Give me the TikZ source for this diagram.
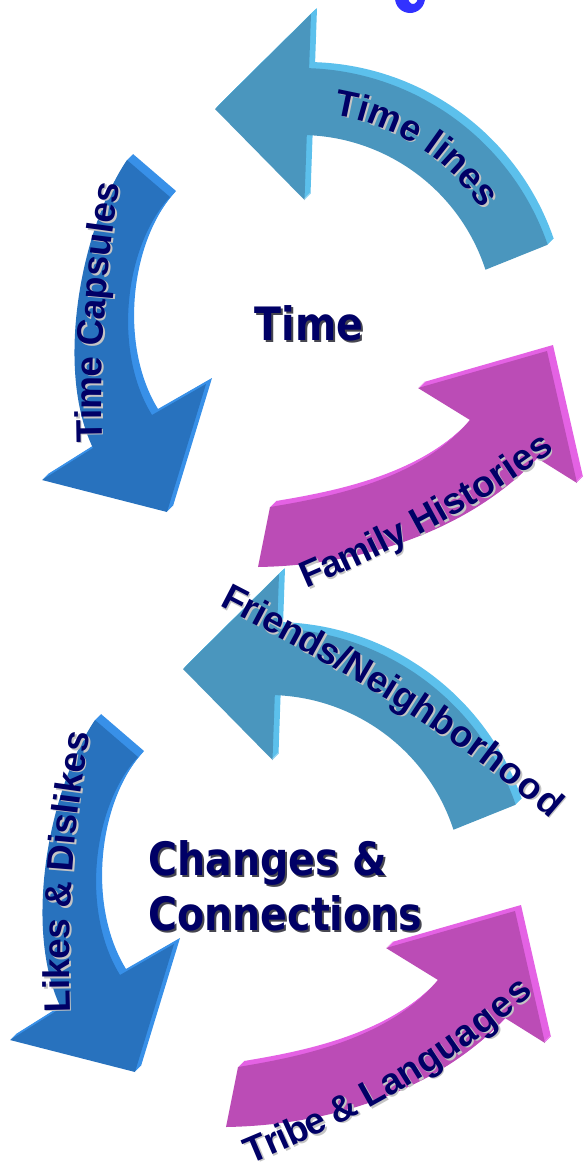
\documentclass[tikz,border=0pt]{standalone}
\usepackage{fontspec}
\setmainfont{Liberation Sans}
\newfontfamily\titlefont{DejaVu Sans}

\definecolor{lineblue}{RGB}{74,150,190}
\definecolor{lineblueside}{RGB}{92,192,236}
\definecolor{capblue}{RGB}{40,114,190}
\definecolor{capblueside}{RGB}{56,144,232}
\definecolor{famviolet}{RGB}{187,76,182}
\definecolor{famvioletside}{RGB}{228,98,228}
\definecolor{labelnavy}{RGB}{0,0,102}
\definecolor{labelshade}{RGB}{196,196,196}
\definecolor{titleshade}{RGB}{70,70,80}
\definecolor{glyphblue}{RGB}{50,50,255}

% arrow faces, pixel units (y grows downwards)
\newcommand\linesarrow[1]{\fill[#1] (547.7,244.7) arc[start angle=-19,end angle=-88,radius=262]
  -- (311,14) -- (215,109) -- (304.5,200) -- (306.8,135.1)
  arc[start angle=-88,end angle=-18,radius=195] -- cycle;}
\newcommand\capsarrow[1]{\fill[#1] (127,160) .. controls (80,230) and (55,370) .. (93,448)
  -- (42,480) -- (167,512) -- (206,384) -- (152,415)
  .. controls (112,350) and (125,245) .. (170,197) -- cycle;}
\newcommand\famarrow[1]{\fill[#1] (258,567) .. controls (380,565) and (480,520) .. (537,458)
  -- (577,483) -- (547,351) -- (418,388) -- (470,420)
  .. controls (420,480) and (330,497) .. (270,507) -- cycle;}

% one ring of three arrows, with its extruded side
\newcommand\arrowring{%
  \foreach \ex in {1,...,6} {\linesarrow{lineblueside,shift={(\ex,-\ex)}}}
  \linesarrow{lineblue}
  \foreach \ex in {1,...,6} {\capsarrow{capblueside,shift={(\ex,-\ex)}}}
  \capsarrow{capblue}
  \foreach \ex in {1,...,6} {\famarrow{famvioletside,shift={(\ex,-\ex)}}}
  \famarrow{famviolet}}

% letters set one by one along a path (#1 path, #2 its length, #3 text width, #4 letter/width)
\newdimen\labelrun
\newcommand\pathlabel[4]{%
  \global\labelrun=0pt
  \foreach \chr/\chw in {#4} {
    \pgfmathsetmacro\chpos{0.5+(\labelrun+\chw/2-#3/2)*0.037/#2}
    \path[shift={(1.6,1.6)}] #1 node[labelshadow,pos=\chpos] {\chr};
    \path #1 node[labelchar,pos=\chpos] {\chr};
    \global\advance\labelrun by \chw pt
  }}
\newcommand\titleword[1]{\scalebox{0.86}[1]{#1}}

\begin{document}
\begin{tikzpicture}[x=1pt,y=-1pt,line join=round,
  labelchar/.style={text=labelnavy,inner sep=0pt,sloped,allow upside down,anchor=base,
    font=\bfseries\fontsize{37}{37}\selectfont},
  labelshadow/.style={labelchar,text=labelshade},
  titletext/.style={text=labelnavy,inner sep=0pt,font=\titlefont\bfseries\fontsize{46}{46}\selectfont},
  titleback/.style={titletext,text=titleshade}]
\fill[white] (0,0) rectangle (585,1165);
\clip (0,0) rectangle (585,1165);

% piece of a letter cut by the top edge
\fill[glyphblue,even odd rule] (410,-2) ellipse[x radius=15,y radius=15]
  (413,-3) ellipse[x radius=5,y radius=7];

\arrowring
\begin{scope}[shift={(-32,560)}]
  \arrowring
\end{scope}

% labels of the upper ring
\pathlabel{(251,117.6) arc[start angle=-103,end angle=-12,radius=218]}{346.2}{4871}
  {T/611,i/278,m/889,e/556,{}/278,l/278,i/278,n/611,e/556,s/556}
\pathlabel{(103,470) .. controls (99,365) and (104,262) .. (126,155)}{318}{7058}
  {T/611,i/278,m/889,e/556,{}/278,C/722,a/556,p/611,s/556,u/611,l/278,e/556,s/556}
\pathlabel{(296,593) .. controls (386,555) and (478,509) .. (566,442)}{311}{7725}
  {F/611,a/556,m/889,i/278,l/278,y/556,{}/278,H/722,i/278,s/556,t/333,o/611,r/389,i/278,e/556,s/556}

% labels of the lower ring
\pathlabel{(200,596) .. controls (325,660) and (450,728) .. (570,836)}{443}{10723}
  {F/611,r/389,i/278,e/556,n/611,d/611,s/556,{/}/278,N/722,e/556,i/278,g/611,h/611,b/611,o/611,r/389,h/611,o/611,o/611,d/611}
\pathlabel{(71,1030) .. controls (67,925) and (72,822) .. (94,715)}{318}{7615}
  {L/611,i/278,k/556,e/556,s/556,{}/278,\&/722,{}/278,D/722,i/278,s/556,l/278,i/278,k/556,e/556,s/556}
\pathlabel{(236,1170) .. controls (340,1128) and (447,1075) .. (550,978)}{370}{9002}
  {T/611,r/389,i/278,b/611,e/556,{}/278,\&/722,{}/278,L/611,a/556,n/611,g/611,u/611,a/556,g/611,e/556,s/556}

% centre titles
\node[titleback] at (311,325) {\titleword{Time}};
\node[titletext] (time) at (309,323) {\titleword{Time}};
\node[titleback,anchor=base west] at (150,877) {\titleword{Changes \&}};
\node[titletext,anchor=base west] (changes) at (148,875) {\titleword{Changes \&}};
\node[titleback,anchor=base west] at (150,932) {\titleword{Connections}};
\node[titletext,anchor=base west] (connections) at (148,930) {\titleword{Connections}};
\end{tikzpicture}
\end{document}
